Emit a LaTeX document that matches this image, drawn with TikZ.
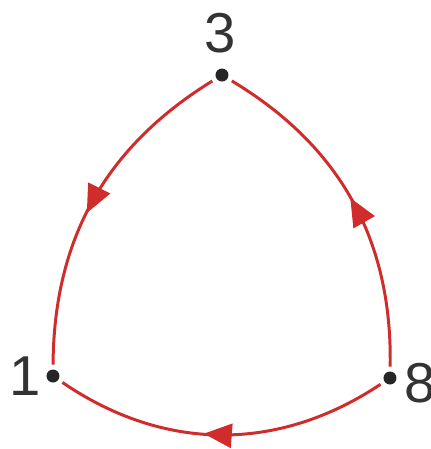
\documentclass[tikz,border=0pt]{standalone}
\usepackage{fontspec}
\setmainfont{Liberation Sans}
\usetikzlibrary{arrows.meta,decorations.markings}
\definecolor{cyclecolor}{HTML}{D02C2C}
\tikzset{
  cyc dot/.style={circle,fill=black!85,inner sep=0pt,minimum size=1.3mm},
  cyc label/.style={font=\fontsize{16}{19}\selectfont,text=black!80,inner sep=0pt},
  cyc edge/.style={cyclecolor,line width=.85pt,shorten <=1.2pt,shorten >=1.2pt},
  cyc arrow/.style={postaction={decorate},decoration={markings,
    mark=at position #1 with {\arrow{Triangle[length=2.8mm,width=2.4mm]}}}}
}
\begin{document}
\begin{tikzpicture}
  \useasboundingbox (0,0) rectangle (4.31,-4.49);
  \node[cyc dot] (v3) at (2.22,-.75) {};
  \node[cyc dot] (v1) at (.53,-3.76) {};
  \node[cyc dot] (v8) at (3.90,-3.78) {};
  \node[cyc label] (l3) at (2.20,-.33) {3};
  \node[cyc label] (l1) at (.25,-3.76) {1};
  \node[cyc label] (l8) at (4.20,-3.83) {8};
  \draw[cyc edge,cyc arrow=.54] (v3) to[bend right=29] (v1);
  \draw[cyc edge,cyc arrow=.51] (v8) to[bend right=30] (v3);
  \draw[cyc edge,cyc arrow=.55] (v8) to[bend left=34] (v1);
\end{tikzpicture}
\end{document}
